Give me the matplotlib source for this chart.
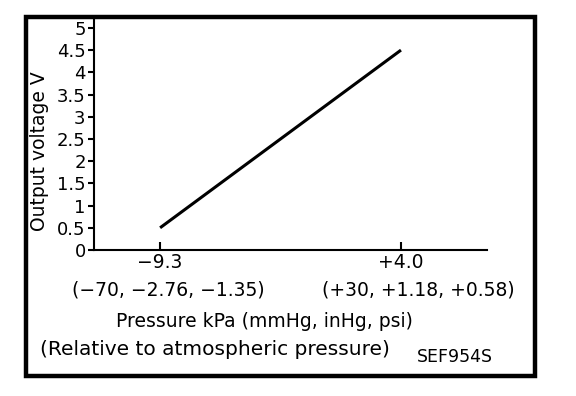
import matplotlib
matplotlib.use("Agg")
import matplotlib.pyplot as plt
from matplotlib.patches import Rectangle

# Data
pressure_kpa = [-9.3, 4.0]
output_voltage = [0.5, 4.5]
x_tick_labels = ["\u22129.3", "+4.0"]
x_tick_sub_labels = ["(\u221270, \u22122.76, \u22121.35)", "(+30, +1.18, +0.58)"]
y_ticks = [0, 0.5, 1, 1.5, 2, 2.5, 3, 3.5, 4, 4.5, 5]
y_tick_labels = ["0", "0.5", "1", "1.5", "2", "2.5", "3", "3.5", "4", "4.5", "5"]
y_label = "Output voltage V"
x_label_1 = "Pressure kPa (mmHg, inHg, psi)"
x_label_2 = "(Relative to atmospheric pressure)"
code_label = "SEF954S"

plt.rcParams['font.family'] = ['DejaVu Sans']
FS = 13.5
PX = 0.72  # points per pixel at dpi 100

W, H = 576, 396
fig = plt.figure(figsize=(W / 100, H / 100), dpi=100)

# Outer frame
fig.patches.append(Rectangle((26 / W, 1 - 376 / H), (535 - 26) / W, (376 - 17) / H,
                             transform=fig.transFigure, fill=False,
                             linewidth=3.2, edgecolor='black'))

ax = fig.add_axes([94 / W, 1 - 250 / H, (487 - 94) / W, (250 - 19) / H])
ax.plot(pressure_kpa, output_voltage, color='black', linewidth=2.2, solid_capstyle='butt')

ax.set_xlim(-12.95, 8.75)
ax.set_ylim(0, 5.2)
for s in ['top', 'right']:
    ax.spines[s].set_visible(False)
for s in ['left', 'bottom']:
    ax.spines[s].set_linewidth(1.5)

ax.set_yticks(y_ticks)
ax.set_yticklabels(y_tick_labels, fontsize=13)
ax.tick_params(axis='y', direction='out', length=4, width=1.5, pad=2)

ax.set_xticks(pressure_kpa)
ax.set_xticklabels(x_tick_labels, fontsize=FS)
ax.tick_params(axis='x', direction='in', length=6, width=1.5, pad=2.5)

# Second row of x tick labels
offsets_px = [8, 17]
for xv, lab, dx in zip(pressure_kpa, x_tick_sub_labels, offsets_px):
    ax.annotate(lab, xy=(xv, 0), xycoords=('data', 'axes fraction'),
                xytext=(dx * PX, -46 * PX), textcoords='offset points',
                ha='center', va='baseline', fontsize=FS)

# Axis labels
fig.text(40 / W, 1 - 151 / H, y_label, rotation=90, ha='center', va='center', fontsize=FS)
fig.text(264.5 / W, 1 - 327 / H, x_label_1, ha='center', va='baseline', fontsize=FS)
fig.text(215 / W, 1 - 355 / H, x_label_2, ha='center', va='baseline', fontsize=14.5)
fig.text(455 / W, 1 - 362 / H, code_label, ha='center', va='baseline', fontsize=12.5)

fig.savefig("out.png", dpi=100, facecolor='white')
